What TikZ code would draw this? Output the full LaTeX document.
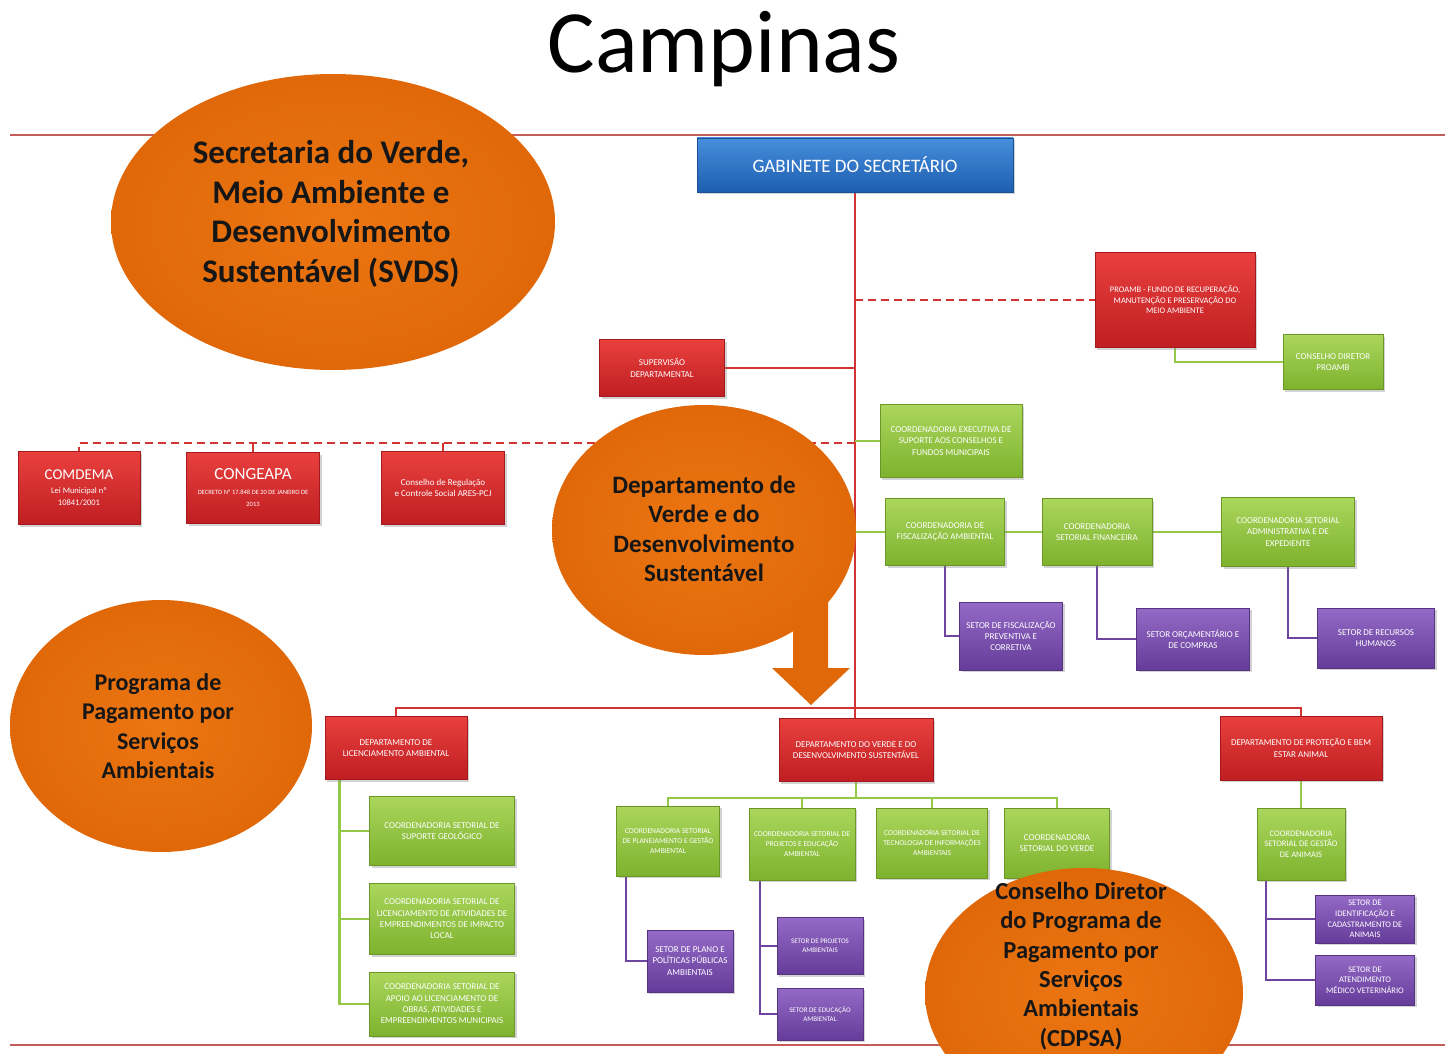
\documentclass[tikz,border=0pt]{standalone}
\usepackage{fontspec}
\setmainfont{Carlito}
\usetikzlibrary{shapes.geometric,shadows}
\pgfdeclarelayer{background}
\pgfsetlayers{background,main}

\definecolor{redA}{RGB}{232,64,62}
\definecolor{redB}{RGB}{192,30,34}
\definecolor{grnA}{RGB}{170,214,92}
\definecolor{grnB}{RGB}{126,178,46}
\definecolor{purA}{RGB}{148,106,198}
\definecolor{purB}{RGB}{102,60,154}
\definecolor{bluA}{RGB}{70,142,220}
\definecolor{bluB}{RGB}{30,94,176}
\definecolor{orngA}{RGB}{236,118,18}
\definecolor{orngB}{RGB}{224,104,8}
\definecolor{lred}{RGB}{208,52,52}
\definecolor{rulec}{RGB}{196,92,90}
\definecolor{lgrn}{RGB}{148,200,72}
\definecolor{lpur}{RGB}{110,70,160}
\definecolor{elltxt}{RGB}{22,22,22}

\begin{document}
\begin{tikzpicture}[x=1pt,y=-1pt,
  box/.style={rectangle, inner sep=1pt, align=center, text=white,
    drop shadow={opacity=0.35, shadow xshift=2pt, shadow yshift=-2pt}},
  sz/.style 2 args={minimum width=#1, minimum height=#2},
  redbox/.style={box, top color=redA, bottom color=redB, draw=redB!85!black, line width=0.5pt},
  grnbox/.style={box, top color=grnA, bottom color=grnB, draw=grnB!85!black, line width=0.5pt},
  purbox/.style={box, top color=purA, bottom color=purB, draw=purB!85!black, line width=0.5pt},
  blubox/.style={box, top color=bluA, bottom color=bluB, draw=bluB!85!black, line width=0.5pt},
  fa/.style={font=\fontsize{9}{11.3}\selectfont},
  fb/.style={font=\fontsize{8.5}{10.6}\selectfont},
  fc/.style={font=\fontsize{7.5}{9.6}\selectfont},
  fd/.style={font=\fontsize{7}{9}\selectfont},
  redline/.style={draw=lred, line width=2.2pt},
  reddash/.style={draw=lred, line width=2.4pt, dash pattern=on 8pt off 5pt},
  grnline/.style={draw=lgrn, line width=2.6pt},
  purline/.style={draw=lpur, line width=2.4pt},
  ell/.style={ellipse, inner sep=0pt, inner color=orngA, outer color=orngB},
  elltext/.style={text=elltxt, align=center}
]
\useasboundingbox (0,0) rectangle (1454,1054);

% title and rules
\node[anchor=base, font=\fontsize{89}{100}\selectfont] (title) at (724,73) {Campinas};
\coordinate (rtl) at (10,135);
\coordinate (rtr) at (1445,135);
\coordinate (rbl) at (10,1045);
\coordinate (rbr) at (1445,1045);
\draw[rulec, line width=1.5pt] (rtl) -- (rtr);
\draw[rulec, line width=1.5pt] (rbl) -- (rbr);

% boxes
\node[blubox, sz={316}{54}, font=\fontsize{19}{22}\selectfont] (gab) at (855,165) {GABINETE DO SECRETÁRIO};
\node[redbox, sz={160}{95}, fb] (proamb) at (1175,300) {PROAMB - FUNDO DE RECUPERAÇÃO,\\MANUTENÇÃO E PRESERVAÇÃO DO\\MEIO AMBIENTE};
\node[grnbox, sz={100}{55}, fa] (cdproamb) at (1333,362) {CONSELHO DIRETOR\\PROAMB};
\node[redbox, sz={125}{57}, fa] (superv) at (662,368) {SUPERVISÃO\\DEPARTAMENTAL};
\node[redbox, sz={122}{73}] (comdema) at (79,488) {{\fontsize{15}{18}\selectfont COMDEMA}\\[2pt]{\fontsize{8.5}{10.5}\selectfont Lei Municipal nº}\\{\fontsize{8.5}{10.5}\selectfont 10841/2001}};
\node[redbox, sz={133}{71}] (congeapa) at (253,488) {{\fontsize{17}{20}\selectfont CONGEAPA}\\[3pt]{\fontsize{6.5}{8}\selectfont DECRETO Nº 17.848 DE 20 DE JANEIRO DE}\\{\fontsize{6.5}{8}\selectfont 2013}};
\node[redbox, sz={123}{73}, fa] (ares) at (443,488) {Conselho de Regulação\\e Controle Social ARES-PCJ};
\node[grnbox, sz={142}{73}, fa] (cesc) at (951,441) {COORDENADORIA EXECUTIVA DE\\SUPORTE AOS CONSELHOS E\\FUNDOS MUNICIPAIS};
\node[grnbox, sz={119}{67}, fa] (cfisc) at (945,532) {COORDENADORIA DE\\FISCALIZAÇÃO AMBIENTAL};
\node[grnbox, sz={110}{67}, fa] (cfin) at (1097,532) {COORDENADORIA\\SETORIAL FINANCEIRA};
\node[grnbox, sz={133}{69}, fa] (cadm) at (1288,532) {COORDENADORIA SETORIAL\\ADMINISTRATIVA E DE\\EXPEDIENTE};
\node[purbox, sz={103}{68}, fa] (sfisc) at (1011,636) {SETOR DE FISCALIZAÇÃO\\PREVENTIVA E\\CORRETIVA};
\node[purbox, sz={113}{62}, fa] (sorc) at (1193,639) {SETOR ORÇAMENTÁRIO E\\DE COMPRAS};
\node[purbox, sz={117}{60}, fa] (srh) at (1376,638) {SETOR DE RECURSOS\\HUMANOS};
\node[redbox, sz={142}{63}, fa] (dlic) at (396,748) {DEPARTAMENTO DE\\LICENCIAMENTO AMBIENTAL};
\node[redbox, sz={154}{63}, fa] (dverde) at (856,750) {DEPARTAMENTO DO VERDE E DO\\DESENVOLVIMENTO SUSTENTÁVEL};
\node[redbox, sz={162}{64}, fa] (dprot) at (1301,748) {DEPARTAMENTO DE PROTEÇÃO E BEM\\ESTAR ANIMAL};
\node[grnbox, sz={145}{69}, fa] (g1) at (442,831) {COORDENADORIA SETORIAL DE\\SUPORTE GEOLÓGICO};
\node[grnbox, sz={145}{71}, fa] (g2) at (442,919) {COORDENADORIA SETORIAL DE\\LICENCIAMENTO DE ATIVIDADES DE\\EMPREENDIMENTOS DE IMPACTO\\LOCAL};
\node[grnbox, sz={145}{64}, fa] (g3) at (442,1004) {COORDENADORIA SETORIAL DE\\APOIO AO LICENCIAMENTO DE\\OBRAS, ATIVIDADES E\\EMPREENDIMENTOS MUNICIPAIS};
\node[grnbox, sz={103}{70}, fc] (g4) at (668,841) {COORDENADORIA SETORIAL\\DE PLANEJAMENTO E GESTÃO\\AMBIENTAL};
\node[grnbox, sz={106}{72}, fc] (g5) at (802,844) {COORDENADORIA SETORIAL DE\\PROJETOS E EDUCAÇÃO\\AMBIENTAL};
\node[grnbox, sz={111}{70}, fc] (g6) at (932,843) {COORDENADORIA SETORIAL DE\\TECNOLOGIA DE INFORMAÇÕES\\AMBIENTAIS};
\node[grnbox, sz={105}{70}, fa] (g7) at (1057,843) {COORDENADORIA\\SETORIAL DO VERDE};
\node[purbox, sz={86}{62}, fa] (splano) at (690,961) {SETOR DE PLANO E\\POLÍTICAS PÚBLICAS\\AMBIENTAIS};
\node[purbox, sz={86}{57}, fd] (sproj) at (820,946) {SETOR DE PROJETOS\\AMBIENTAIS};
\node[purbox, sz={86}{52}, fd] (sedu) at (820,1014) {SETOR DE EDUCAÇÃO\\AMBIENTAL};
\node[grnbox, sz={88}{72}, fb] (ganim) at (1301,844) {COORDENADORIA\\SETORIAL DE GESTÃO\\DE ANIMAIS};
\node[purbox, sz={99}{48}, fb] (sident) at (1365,919) {SETOR DE\\IDENTIFICAÇÃO E\\CADASTRAMENTO DE\\ANIMAIS};
\node[purbox, sz={99}{50}, fb] (saten) at (1365,980) {SETOR DE\\ATENDIMENTO\\MÉDICO VETERINÁRIO};

% connectors, behind the boxes
\coordinate (bus) at (855,708);
\coordinate (dl) at (855,443);
\coordinate (vbus) at (856,798);
\begin{pgfonlayer}{background}
\draw[redline] (gab.south) -- (gab.south |- dverde.north);
\draw[redline] (dlic.north) |- (bus) -| (dprot.north);
\draw[reddash] (gab.south |- proamb.west) -- (proamb.west);
\draw[redline] (superv.east) -- (superv.east -| gab.south);
\draw[reddash] (dl) -| (comdema.north);
\draw[reddash] (congeapa.north) -- (congeapa.north |- dl);
\draw[reddash] (ares.north) -- (ares.north |- dl);
\draw[grnline] (proamb.south) |- (cdproamb.west);
\draw[grnline] (gab.south |- cesc.west) -- (cesc.west);
\draw[grnline] (gab.south |- cfisc.west) -- (cfisc.west);
\draw[grnline] (cfisc.east) -- (cfin.west);
\draw[grnline] (cfin.east) -- (cadm.west);
\draw[purline] (cfisc.south) |- (sfisc.west);
\draw[purline] (cfin.south) |- (sorc.west);
\draw[purline] (cadm.south) |- (srh.west);
\draw[grnline] ([xshift=15pt]dlic.south west) |- (g1.west);
\draw[grnline] ([xshift=15pt]dlic.south west) |- (g2.west);
\draw[grnline] ([xshift=15pt]dlic.south west) |- (g3.west);
\draw[grnline] (dverde.south) -- (vbus);
\draw[grnline] (g4.north) |- (vbus) -| (g7.north);
\draw[grnline] (g5.north) -- (g5.north |- vbus);
\draw[grnline] (g6.north) -- (g6.north |- vbus);
\draw[purline] ([xshift=10pt]g4.south west) |- (splano.west);
\draw[purline] ([xshift=11pt]g5.south west) |- (sproj.west);
\draw[purline] ([xshift=11pt]g5.south west) |- (sedu.west);
\draw[grnline] (dprot.south) -- (ganim.north);
\draw[purline] ([xshift=9pt]ganim.south west) |- (sident.west);
\draw[purline] ([xshift=9pt]ganim.south west) |- (saten.west);
\end{pgfonlayer}

% ellipses
\node[ell, minimum width=444, minimum height=296] (e1) at (333,222) {};
\node[elltext, font=\bfseries\fontsize{33}{39.5}\selectfont] (t1) at (331,214) {Secretaria do Verde,\\Meio Ambiente e\\Desenvolvimento\\Sustentável (SVDS)};
\node[ell, minimum width=304, minimum height=250] (e2) at (704,530) {};
\fill[orngB] (793,600) -- (828,600) -- (828,668) -- (850,668) -- (811,705) -- (772,668) -- (793,668) -- cycle;
\node[elltext, font=\bfseries\fontsize{25}{29.5}\selectfont] (t2) at (704,529) {Departamento de\\Verde e do\\Desenvolvimento\\Sustentável};
\node[ell, minimum width=302, minimum height=252] (e3) at (161,726) {};
\node[elltext, font=\bfseries\fontsize{24}{29.5}\selectfont] (t3) at (158,726) {Programa de\\Pagamento por\\Serviços\\Ambientais};
\node[ell, minimum width=318, minimum height=250] (e4) at (1084,993) {};
\node[elltext, font=\bfseries\fontsize{24.5}{29.3}\selectfont] (t4) at (1081,966) {Conselho Diretor\\do Programa de\\Pagamento por\\Serviços\\Ambientais\\(CDPSA)};
\end{tikzpicture}
\end{document}
